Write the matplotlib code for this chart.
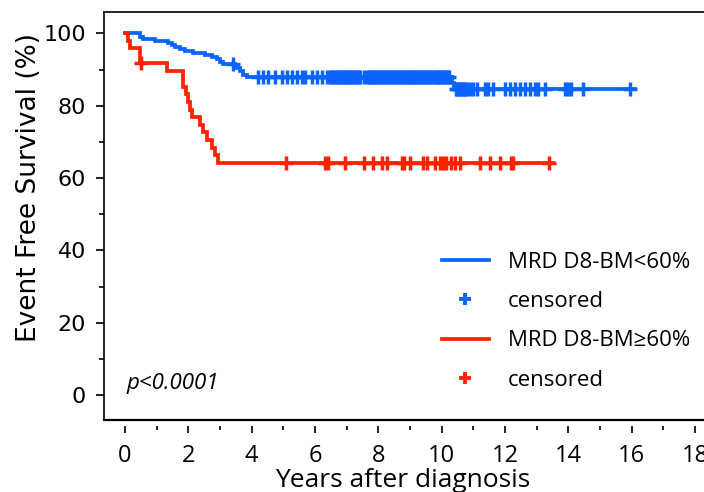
import numpy as np
import matplotlib
matplotlib.use("Agg")
import matplotlib.pyplot as plt
from matplotlib.lines import Line2D

# ---------------- data ----------------
blue_event_times = [0.47, 0.58, 0.95, 1.36, 1.47, 1.58, 1.74, 1.90, 2.16, 2.53, 2.74, 2.90,
                    3.00, 3.10, 3.47, 3.63, 3.73, 3.84, 10.31, 10.38]
blue_event_surv = [99.0, 98.4, 98.0, 97.4, 96.8, 96.1, 95.6, 95.1, 94.6, 94.1, 93.5, 93.0,
                   92.2, 91.5, 90.4, 89.6, 88.5, 88.0, 86.2, 84.5]
blue_end = 16.1
blue_censor = [3.42, 4.21, 4.37, 4.52, 4.74, 4.95, 5.10, 5.26, 5.42, 5.58, 5.68, 5.89, 6.05,
               6.21, 6.37, 6.47, 6.52, 6.57, 6.62, 6.68, 6.73, 6.78, 6.83, 6.88, 6.93, 6.98,
               7.03, 7.08, 7.13, 7.18, 7.23, 7.28, 7.33, 7.38, 7.42, 7.53,
               7.64, 7.69, 7.74, 7.79, 7.84, 7.89, 7.94, 7.99, 8.04, 8.09, 8.14, 8.19, 8.24,
               8.29, 8.34, 8.39, 8.44, 8.49, 8.54, 8.59, 8.64, 8.69, 8.74, 8.79, 8.84, 8.89,
               8.94, 8.99, 9.04, 9.09, 9.14, 9.19, 9.24, 9.29, 9.34, 9.39, 9.44, 9.49, 9.54,
               9.59, 9.64, 9.69, 9.74, 9.79, 9.84, 9.89, 9.94, 9.99, 10.04, 10.09, 10.14,
               10.19, 10.24,
               10.44, 10.49, 10.54, 10.59, 10.64, 10.69, 10.74, 10.80, 10.90, 11.00, 11.10,
               11.37, 11.47, 11.63, 12.00, 12.16, 12.31, 12.47, 12.63, 12.79, 12.95, 13.05,
               13.26, 13.89, 14.00, 14.07, 14.47, 15.95]

red_event_times = [0.08, 0.16, 0.47, 1.32, 1.84, 1.92, 2.00, 2.05, 2.12, 2.37, 2.47, 2.58,
                   2.74, 2.84, 2.95]
red_event_surv = [97.9, 95.9, 91.8, 89.6, 85.3, 83.2, 81.1, 78.9, 76.9, 74.7, 72.6, 70.5,
                  68.4, 66.3, 64.2]
red_end = 13.52
red_censor = [0.50, 5.08, 6.32, 6.42, 6.95, 7.55, 7.84, 8.11, 8.26, 8.74, 8.81, 9.00, 9.42,
              9.55, 9.79, 9.95, 10.05, 10.14, 10.28, 10.42, 10.58, 11.21, 11.53, 11.84,
              12.18, 12.24, 13.40]

labels = ["MRD D8-BM<60%", "censored", "MRD D8-BM\u226560%", "censored"]
xticks = list(range(0, 19, 2))
yticks = list(range(0, 101, 20))

BLUE = "#0A64FF"
RED = "#FF2200"

W, H = 704, 492
fig = plt.figure(figsize=(W / 100, H / 100), dpi=100)
ax = fig.add_axes([104 / W, 1 - 420 / H, 600 / W, 408 / H])


def km(times, surv, end):
    t = np.concatenate([[0.0], times, [end]])
    s = np.concatenate([[100.0], surv, [surv[-1]]])
    return t, s


def lookup(t, s, c):
    idx = np.searchsorted(t, c, side="right") - 1
    return s[idx]


for times, surv, end, cens, col in [
    (blue_event_times, blue_event_surv, blue_end, blue_censor, BLUE),
    (red_event_times, red_event_surv, red_end, red_censor, RED),
]:
    t, s = km(np.array(times), np.array(surv), end)
    ax.step(t, s, where="post", color=col, lw=2.7, solid_joinstyle="miter")
    c = np.array(cens)
    ax.plot(c, lookup(t, s, c), linestyle="none", marker="+", color=col,
            markersize=9.5, markeredgewidth=2.5)

ax.set_xlim(-0.663, 18.28)
ax.set_ylim(-6.9, 105.9)

ax.set_xticks(xticks)
ax.set_xticks(range(1, 19, 2), minor=True)
ax.set_yticks(yticks)
ax.set_yticks(range(10, 100, 20), minor=True)

ax.spines["right"].set_visible(False)
ax.spines["bottom"].set_visible(False)
ax.spines["bottom"].set_position(("outward", 4))
for sp in ["left", "top"]:
    ax.spines[sp].set_linewidth(1.2)
ax.plot([0, 1], [0, 0], transform=ax.transAxes, color="black", lw=1.6, clip_on=False)

ax.tick_params(axis="y", which="major", length=6, width=1.2, pad=7, labelsize=16)
ax.tick_params(axis="y", which="minor", length=3.5, width=1.2)
ax.tick_params(axis="x", which="major", length=5, width=1.2, pad=8)
ax.tick_params(axis="x", which="minor", length=3, width=1.2)
for lab in ax.get_xticklabels():
    lab.set_fontfamily("Open Sans")
    lab.set_fontsize(17)
for lab in ax.get_yticklabels():
    lab.set_fontfamily("DejaVu Sans")

ax.set_ylabel("Event Free Survival (%)", fontsize=19, fontfamily="DejaVu Sans")
ax.yaxis.set_label_coords(-0.103, 0.569)
ax.set_xlabel("Years after diagnosis", fontsize=19, fontfamily="Open Sans")
ax.xaxis.set_label_coords(0.497, -0.118)

ax.text(0.06, 3.3, "p<0.0001", fontsize=16, fontstyle="italic", fontfamily="Open Sans",
        va="center", ha="left")

handles = [
    Line2D([], [], color=BLUE, lw=2.7),
    Line2D([], [], color=BLUE, linestyle="none", marker="+", markersize=9, markeredgewidth=2.8),
    Line2D([], [], color=RED, lw=2.7),
    Line2D([], [], color=RED, linestyle="none", marker="+", markersize=9, markeredgewidth=2.8),
]
leg = fig.legend(handles, labels, loc="upper left", bbox_to_anchor=(442 / W, 1 - 252 / H),
                 bbox_transform=fig.transFigure, frameon=False, borderpad=0,
                 borderaxespad=0, handlelength=2.1, handletextpad=0.85, labelspacing=0.82,
                 prop={"family": "Open Sans", "size": 16})

fig.savefig("out.png", dpi=100)
